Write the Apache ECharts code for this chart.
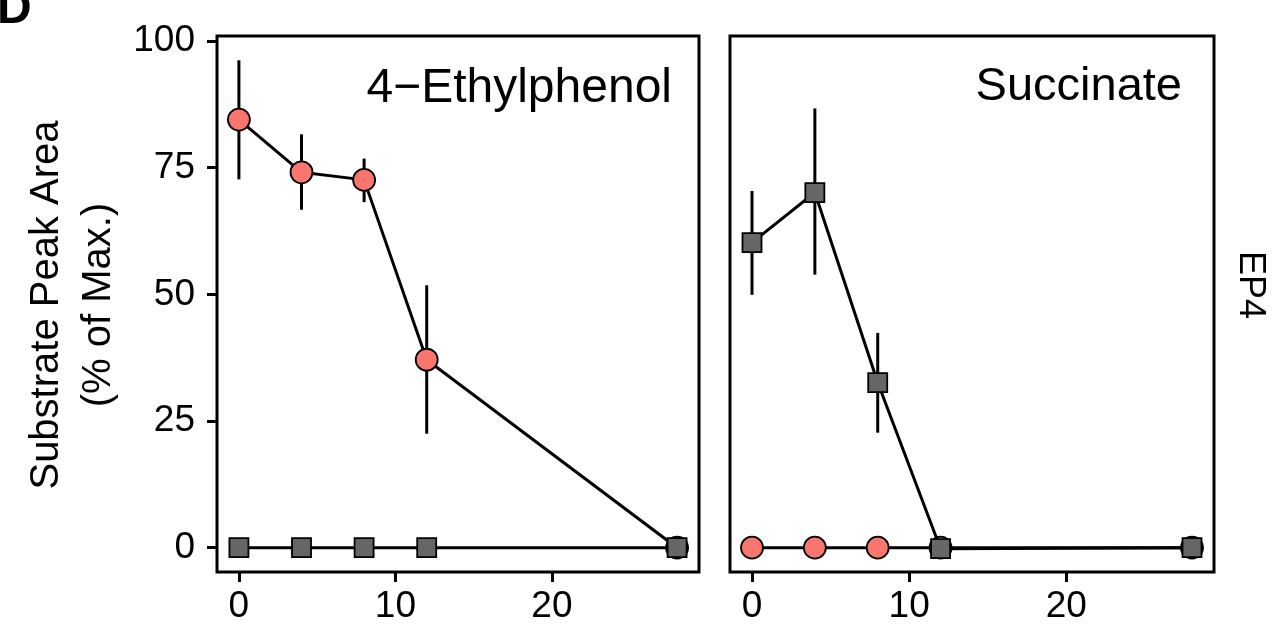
<!DOCTYPE html>
<html>
<head>
<meta charset="utf-8">
<title>Substrate peak area - EP4</title>
<script src="https://cdn.jsdelivr.net/npm/echarts@6/dist/echarts.min.js"></script>
<style>
  html, body { margin: 0; padding: 0; background: #fff; }
  #chart { width: 1283px; height: 639px; }
</style>
</head>
<body>
<div id="chart"></div>
<script>
// sampling times (x)
var times = [0, 4, 8, 12, 28]
var xTicks = [0, 10, 20]
var yTicks = [0, 25, 50, 75, 100]
var panelTitles = ['4\u2212Ethylphenol', 'Succinate']

// 4-Ethylphenol panel
var ethylRed = [84.5, 74.1, 72.6, 37.1, 0]
var ethylRedLo = [72.7, 66.7, 68.2, 22.5, 0]
var ethylRedHi = [96.2, 81.6, 76.8, 51.8, 0]
var ethylGray = [0, 0, 0, 0, 0]

// Succinate panel
var succRed = [0, 0, 0, 0, 0]
var succGray = [60.2, 70.1, 32.6, -0.2, 0]
var succGrayLo = [49.9, 53.9, 22.7, -0.2, 0]
var succGrayHi = [70.4, 86.7, 42.4, -0.2, 0]

var FONT = '"Liberation Sans", Arial, sans-serif'
var RED = '#F8766D'
var GRAY = '#666666'

function pairs(xs, ys) {
  return xs.map(function (x, i) { return [x, ys[i]] })
}

function errorData(xs, lo, hi) {
  return xs.map(function (x, i) { return [x, lo[i], hi[i]] })
}

function errorSeries(idx, data) {
  return {
    type: 'custom',
    xAxisIndex: idx,
    yAxisIndex: idx,
    data: data,
    z: 1,
    renderItem: function (params, api) {
      var p1 = api.coord([api.value(0), api.value(1)])
      var p2 = api.coord([api.value(0), api.value(2)])
      return {
        type: 'line',
        shape: { x1: p1[0], y1: p1[1], x2: p2[0], y2: p2[1] },
        style: { stroke: '#000', lineWidth: 3 }
      }
    }
  }
}

function pointSeries(idx, data, symbol, color, size, z) {
  return {
    type: 'line',
    xAxisIndex: idx,
    yAxisIndex: idx,
    data: data,
    symbol: symbol,
    symbolSize: size,
    showSymbol: true,
    z: z,
    lineStyle: { color: '#000', width: 3 },
    itemStyle: { color: color, borderColor: '#000', borderWidth: 1.8, opacity: 1 }
  }
}

function makeX(idx) {
  return {
    type: 'value',
    gridIndex: idx,
    min: -1.4,
    max: 29.4,
    splitLine: { show: false },
    axisLine: { show: false, onZero: false },
    axisTick: { show: true, length: 10, customValues: xTicks, lineStyle: { color: '#000', width: 3 } },
    axisLabel: { customValues: xTicks, margin: 16, fontSize: 37, color: '#000', fontFamily: FONT }
  }
}

function makeY(idx) {
  return {
    type: 'value',
    gridIndex: idx,
    min: -4.8,
    max: 101.0,
    splitLine: { show: false },
    axisLine: { show: false, onZero: false },
    axisTick: { show: idx === 0, length: 10, customValues: yTicks, lineStyle: { color: '#000', width: 3 } },
    axisLabel: { show: idx === 0, customValues: yTicks, margin: 22, fontSize: 37, color: '#000', fontFamily: FONT }
  }
}

var chart = echarts.init(document.getElementById('chart'))

var option = {
  animation: false,
  backgroundColor: '#fff',
  grid: [
    { left: 217, top: 36, width: 482, height: 536, show: true, borderColor: '#000', borderWidth: 3, backgroundColor: '#fff' },
    { left: 730, top: 36, width: 484, height: 536, show: true, borderColor: '#000', borderWidth: 3, backgroundColor: '#fff' }
  ],
  xAxis: [makeX(0), makeX(1)],
  yAxis: [makeY(0), makeY(1)],
  graphic: [
    { type: 'text', left: -3, top: -14, style: { text: 'D', font: 'bold 48px ' + FONT, fill: '#000' } },
    {
      type: 'text', x: 47, y: 305, rotation: Math.PI / 2,
      style: { text: 'Substrate Peak Area', font: '40px ' + FONT, fill: '#000', align: 'center', verticalAlign: 'middle' }
    },
    {
      type: 'text', x: 99, y: 305, rotation: Math.PI / 2,
      style: { text: '(% of Max.)', font: '40px ' + FONT, fill: '#000', align: 'center', verticalAlign: 'middle' }
    },
    {
      type: 'text', x: 672, y: 65,
      style: { text: panelTitles[0], font: '48px ' + FONT, fill: '#000', align: 'right', verticalAlign: 'top' }
    },
    {
      type: 'text', x: 1182, y: 64,
      style: { text: panelTitles[1], font: '47px ' + FONT, fill: '#000', align: 'right', verticalAlign: 'top' }
    },
    {
      type: 'text', x: 1250, y: 285, rotation: -Math.PI / 2,
      style: { text: 'EP4', font: '36px ' + FONT, fill: '#000', align: 'center', verticalAlign: 'middle' }
    }
  ],
  series: [
    // left: 4-Ethylphenol
    errorSeries(0, errorData(times, ethylRedLo, ethylRedHi)),
    pointSeries(0, pairs(times, ethylRed), 'circle', RED, 22, 2),
    pointSeries(0, pairs(times, ethylGray), 'rect', GRAY, 19, 3),
    // right: Succinate
    errorSeries(1, errorData(times, succGrayLo, succGrayHi)),
    pointSeries(1, pairs(times, succRed), 'circle', RED, 22, 2),
    pointSeries(1, pairs(times, succGray), 'rect', GRAY, 19, 3)
  ]
}

chart.setOption(option)
</script>
</body>
</html>
